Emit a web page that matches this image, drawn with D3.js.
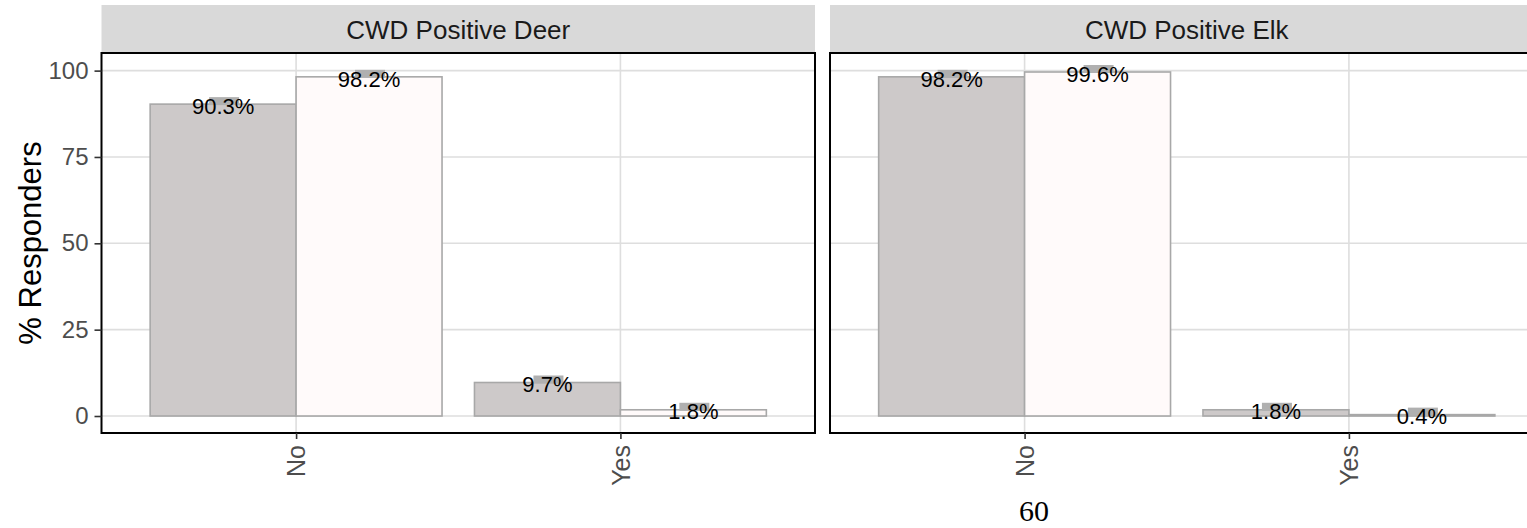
<!DOCTYPE html>
<html><head><meta charset="utf-8">
<script src="https://cdn.jsdelivr.net/npm/d3@7"></script>
<style>html,body{margin:0;padding:0;background:#fff;overflow:hidden}</style>
</head><body>
<svg id="chart" width="1527" height="528"></svg>
<script>
// ---- data ----
const panels = ["CWD Positive Deer", "CWD Positive Elk"];
const categories = ["No", "Yes"];
const seriesNames = ["Group 1", "Group 2"];
const deerGroup1 = [90.3, 9.7];
const deerGroup2 = [98.2, 1.8];
const elkGroup1 = [98.2, 1.8];
const elkGroup2 = [99.6, 0.4];
const yTicks = [0, 25, 50, 75, 100];
const yTitle = "% Responders";
const pageNumber = "60";

const panelData = [
  [deerGroup1, deerGroup2],
  [elkGroup1, elkGroup2]
];

const svg = d3.select("#chart");
const fills = ["#cdc9c9", "#fffafa"];
const stroke = "#a8a8a8";

const plotTop = 53, plotBottom = 433, stripTop = 5;
const panelLefts = [101.5, 830];
const panelWidth = 713.5;

const y = d3.scaleLinear().domain([-4.92, 105.1]).range([plotBottom, plotTop]);

panels.forEach((name, pi) => {
  const x0 = panelLefts[pi], x1 = x0 + panelWidth;
  const g = svg.append("g");
  // strip
  g.append("rect").attr("x", x0).attr("y", stripTop).attr("width", panelWidth)
    .attr("height", plotTop - stripTop).attr("fill", "#d9d9d9");
  g.append("text").attr("x", x0 + panelWidth / 2).attr("y", (stripTop + plotTop) / 2 + 1)
    .attr("dy", "0.35em").attr("text-anchor", "middle")
    .attr("font-family", "Liberation Sans, Arial, sans-serif").attr("font-size", 26)
    .attr("fill", "#1a1a1a").text(name);

  // x band scale (ggplot discrete with 0.6 expansion)
  const unit = panelWidth / (categories.length - 1 + 1.2);
  const x = d3.scalePoint().domain(categories).range([x0 + 0.6 * unit, x1 - 0.6 * unit]);
  const barW = 0.9 * unit / seriesNames.length;

  // grid
  g.selectAll(".hg").data(yTicks).join("line")
    .attr("x1", x0).attr("x2", x1).attr("y1", d => y(d)).attr("y2", d => y(d))
    .attr("stroke", "#dedede").attr("stroke-width", 1.6);
  g.selectAll(".vg").data(categories).join("line")
    .attr("x1", d => x(d)).attr("x2", d => x(d)).attr("y1", plotTop).attr("y2", plotBottom)
    .attr("stroke", "#dedede").attr("stroke-width", 1.6);

  // bars
  const bars = [];
  panelData[pi].forEach((vals, si) => {
    vals.forEach((v, ci) => {
      const bx = x(categories[ci]) - 0.45 * unit + si * barW;
      bars.push({v, bx, si});
    });
  });
  g.selectAll(".bar").data(bars).join("rect")
    .attr("x", d => d.bx).attr("width", barW)
    .attr("y", d => y(d.v)).attr("height", d => y(0) - y(d.v))
    .attr("fill", d => fills[d.si]).attr("stroke", stroke).attr("stroke-width", 1.6);

  // label highlight boxes
  g.selectAll(".hl").data(bars).join("rect")
    .attr("x", d => d.bx + barW / 2 - 14).attr("width", 30)
    .attr("y", d => y(d.v) - 7).attr("height", 8)
    .attr("fill", "#b0b0b0");
  // labels
  g.selectAll(".lbl").data(bars).join("text")
    .attr("x", d => d.bx + barW / 2).attr("y", d => y(d.v) + 2)
    .attr("dy", "0.35em").attr("text-anchor", "middle")
    .attr("font-family", "Liberation Sans, Arial, sans-serif").attr("font-size", 22)
    .attr("fill", "#000").text(d => d.v.toFixed(1) + "%");

  // panel border
  g.append("rect").attr("x", x0).attr("y", plotTop).attr("width", panelWidth)
    .attr("height", plotBottom - plotTop).attr("fill", "none")
    .attr("stroke", "#000").attr("stroke-width", 2);

  // x axis
  const xa = g.append("g").attr("transform", `translate(0,${plotBottom})`)
    .call(d3.axisBottom(x).tickSize(6).tickPadding(6));
  xa.select(".domain").remove();
  xa.selectAll(".tick line").attr("stroke", "#333").attr("stroke-width", 1.6);
  xa.selectAll(".tick text")
    .attr("transform", "rotate(-90)").attr("text-anchor", "end")
    .attr("x", -12).attr("y", 0).attr("dy", "0.35em")
    .attr("font-family", "Liberation Sans, Arial, sans-serif").attr("font-size", 25)
    .attr("fill", "#4d4d4d");

  // y axis only on first panel
  if (pi === 0) {
    const ya = g.append("g").attr("transform", `translate(${x0},0)`)
      .call(d3.axisLeft(y).tickValues(yTicks).tickSize(7).tickPadding(6));
    ya.select(".domain").remove();
    ya.selectAll(".tick line").attr("stroke", "#333").attr("stroke-width", 1.6);
    ya.selectAll(".tick text").attr("font-family", "Liberation Sans, Arial, sans-serif")
      .attr("font-size", 24).attr("fill", "#4d4d4d");
  }
});

// y axis title
svg.append("text").attr("transform", `translate(30,${(plotTop + plotBottom) / 2}) rotate(-90)`)
  .attr("dy", "0.35em").attr("text-anchor", "middle")
  .attr("font-family", "Liberation Sans, Arial, sans-serif").attr("font-size", 31)
  .attr("fill", "#000").text(yTitle);

// page number
svg.append("text").attr("x", 1034).attr("y", 521).attr("text-anchor", "middle")
  .attr("font-family", "Liberation Serif, Times New Roman, serif").attr("font-size", 30)
  .attr("fill", "#000").text(pageNumber);
</script>
</body></html>
